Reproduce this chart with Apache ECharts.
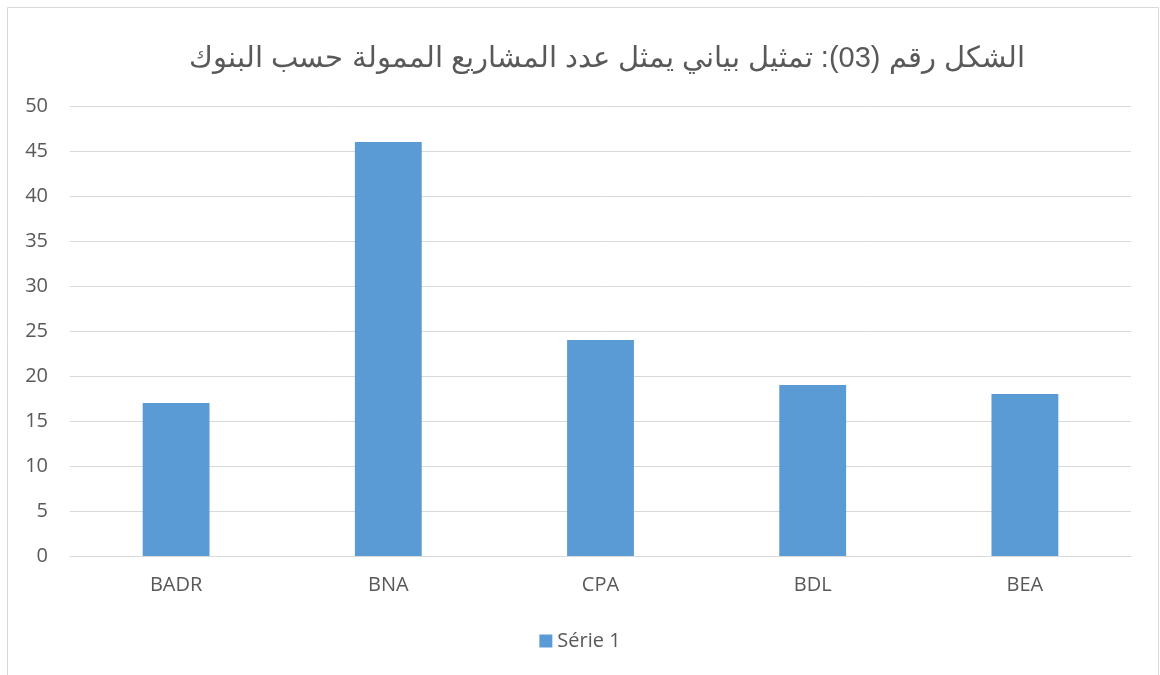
<!DOCTYPE html>
<html><head><meta charset="utf-8">
<script src="https://cdn.jsdelivr.net/npm/echarts@6/dist/echarts.min.js"></script>
<style>html,body{margin:0;padding:0;background:#fff}#c{width:1160px;height:675px}</style>
</head><body><div id="c"></div>
<script>
const titleText = 'الشكل رقم (03): تمثيل بياني يمثل عدد المشاريع الممولة حسب البنوك';
const categories = ['BADR', 'BNA', 'CPA', 'BDL', 'BEA'];
const seriesName = 'Série 1';
const values = [17, 46, 24, 19, 18];
const chart = echarts.init(document.getElementById('c'));
chart.setOption({
  animation: false,
  backgroundColor: '#fff',
  graphic: [{type: 'rect', shape: {x: 7.5, y: 7.5, width: 1151, height: 700}, style: {fill: 'none', stroke: '#d9d9d9', lineWidth: 1}}],
  title: {text: titleText, left: 602, textAlign: 'center', top: 39, textStyle: {fontFamily: 'Liberation Sans', fontSize: 29, fontWeight: 'normal', color: '#595959'}},
  grid: {left: 70, right: 29, top: 106, bottom: 119},
  legend: {bottom: 19, left: 'center', itemWidth: 13, itemHeight: 13, icon: 'rect', itemGap: 7,
    textStyle: {fontFamily: 'Open Sans', fontSize: 20, color: '#595959'}, data: [seriesName]},
  xAxis: {type: 'category', data: categories,
    axisLine: {lineStyle: {color: '#d9d9d9'}}, axisTick: {show: false},
    axisLabel: {fontFamily: 'Open Sans', fontSize: 20, color: '#595959', margin: 19}},
  yAxis: {type: 'value', min: 0, max: 50, interval: 5,
    axisLine: {show: false}, axisTick: {show: false},
    splitLine: {lineStyle: {color: '#d9d9d9'}},
    axisLabel: {fontFamily: 'Open Sans', fontSize: 20, color: '#595959', margin: 22}},
  series: [{name: seriesName, type: 'bar', data: values, barWidth: '31.5%', itemStyle: {color: '#5b9bd5'}}]
});
</script></body></html>
